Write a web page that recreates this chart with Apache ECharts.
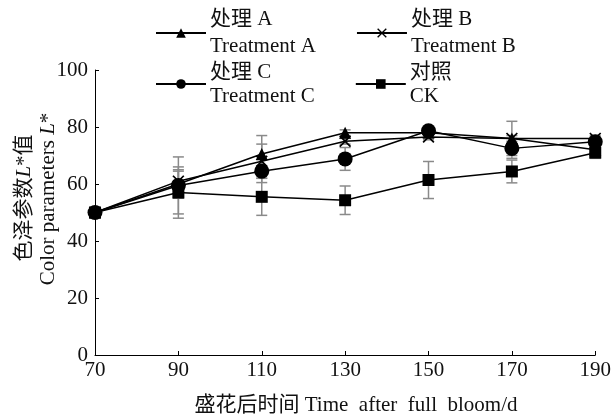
<!DOCTYPE html>
<html><head><meta charset="utf-8">
<script src="https://cdn.jsdelivr.net/npm/echarts@6/dist/echarts.min.js"></script>
<style>html,body{margin:0;padding:0;background:#fff}#c{width:614px;height:417px}</style>
</head><body><div id="c"></div>
<script>
const days = [70, 90, 110, 130, 150, 170, 190];
const xTicks = [70, 90, 110, 130, 150, 170, 190];
const yTicks = [0, 20, 40, 60, 80, 100];
const seriesNames = ['处理 A\nTreatment A', '处理 B\nTreatment B', '处理 C\nTreatment C', '对照\nCK'];
const valA = [50, 60, 70.5, 78, 78, 76, 72];
const valB = [50, 61, 68, 75, 76.5, 76, 76];
const valC = [50, 59.5, 64.5, 68.8, 78.7, 72.5, 74.8];
const valCK = [50, 57, 55.5, 54.3, 61.4, 64.4, 71];
const errA = [0, 5, 6.5, 1, 1, 1, 1];
const errB = [0, 3.5, 6, 1, 1, 6, 1];
const errC = [0, 10, 4, 4, 1, 3.5, 1];
const errCK = [0, 9, 6.5, 5, 6.5, 4, 2];

const FONT = '"Liberation Serif", "Times New Roman", "Noto Sans CJK SC", serif';
const TXT = '#111';
const xSym = 'path://M1,0 L5,4 L9,0 L10,1 L6,5 L10,9 L9,10 L5,6 L1,10 L0,9 L4,5 L0,1 Z';

function lineSeries(name, vals, symbol, size) {
  return {
    name: name, type: 'line', data: days.map((d, i) => [d, vals[i]]),
    symbol: symbol, symbolSize: size, z: 3,
    lineStyle: { color: '#000', width: 1.5 },
    itemStyle: { color: '#000' }
  };
}
function errSeries(vals, errs) {
  return {
    type: 'custom', z: 2, silent: true,
    data: days.map((d, i) => [d, vals[i] - errs[i], vals[i] + errs[i]]),
    renderItem: function (params, api) {
      const lo = api.coord([api.value(0), api.value(1)]);
      const hi = api.coord([api.value(0), api.value(2)]);
      if (Math.abs(hi[1] - lo[1]) < 1) return null;
      const w = 5.5;
      const st = { stroke: '#8a8a8a', lineWidth: 1.5 };
      return {
        type: 'group', children: [
          { type: 'line', shape: { x1: lo[0], y1: lo[1], x2: hi[0], y2: hi[1] }, style: st },
          { type: 'line', shape: { x1: lo[0] - w, y1: lo[1], x2: lo[0] + w, y2: lo[1] }, style: st },
          { type: 'line', shape: { x1: hi[0] - w, y1: hi[1], x2: hi[0] + w, y2: hi[1] }, style: st }
        ]
      };
    }
  };
}

const chart = echarts.init(document.getElementById('c'));
function legendOf(top, lh, names) {
  return {
    orient: 'horizontal', itemWidth: 50, itemHeight: 12, itemGap: 40, padding: 0,
    left: 155, top: top, data: names,
    textStyle: { fontFamily: FONT, fontSize: 21, color: TXT, lineHeight: lh, padding: [0, 0, 0, -1] }
  };
}
const rich = {
  c: { fontFamily: FONT, fontSize: 21, fill: TXT },
  i: { fontFamily: FONT, fontSize: 21, fontStyle: 'italic', fill: TXT }
};
chart.setOption({
  animation: false,
  backgroundColor: '#fff',
  grid: { left: 95, right: 17, top: 70, bottom: 62 },
  legend: [
    legendOf(6, 27, [seriesNames[0], seriesNames[1]]),
    legendOf(60, 24, [seriesNames[2], seriesNames[3]])
  ],
  xAxis: {
    type: 'value', min: 70, max: 190, interval: 20,
    axisLine: { lineStyle: { color: '#000', width: 1 } },
    axisTick: { inside: true, length: 4, lineStyle: { color: '#000' } },
    axisLabel: { fontFamily: FONT, fontSize: 21, color: TXT, margin: 5,
      formatter: v => xTicks.includes(v) ? String(v) : '' },
    splitLine: { show: false }
  },
  yAxis: {
    type: 'value', min: 0, max: 100, interval: 20,
    axisLine: { show: true, lineStyle: { color: '#000', width: 1 } },
    axisTick: { show: true, inside: true, length: 4, lineStyle: { color: '#000' } },
    axisLabel: { fontFamily: FONT, fontSize: 21, color: TXT, margin: 7,
      formatter: v => yTicks.includes(v) ? String(v) : '' },
    splitLine: { show: false }
  },
  graphic: [
    {
      type: 'text', x: 24, y: 198, rotation: Math.PI / 2,
      style: { text: '{c|色泽参数}{i|L}{c|*值}', align: 'center', verticalAlign: 'middle', rich: rich }
    },
    {
      type: 'text', x: 48, y: 199, rotation: Math.PI / 2,
      style: { text: '{c|Color parameters }{i|L}{c|*}', align: 'center', verticalAlign: 'middle', rich: rich }
    },
    {
      type: 'text', x: 356, y: 405,
      style: { text: '盛花后时间 Time  after  full  bloom/d', align: 'center', verticalAlign: 'middle',
        fontFamily: FONT, fontSize: 21, fill: TXT }
    }
  ],
  series: [
    errSeries(valCK, errCK), errSeries(valA, errA), errSeries(valB, errB), errSeries(valC, errC),
    lineSeries(seriesNames[0], valA, 'triangle', 12),
    lineSeries(seriesNames[1], valB, xSym, 12),
    lineSeries(seriesNames[3], valCK, 'rect', 12),
    lineSeries(seriesNames[2], valC, 'circle', 15)
  ]
});
</script></body></html>
